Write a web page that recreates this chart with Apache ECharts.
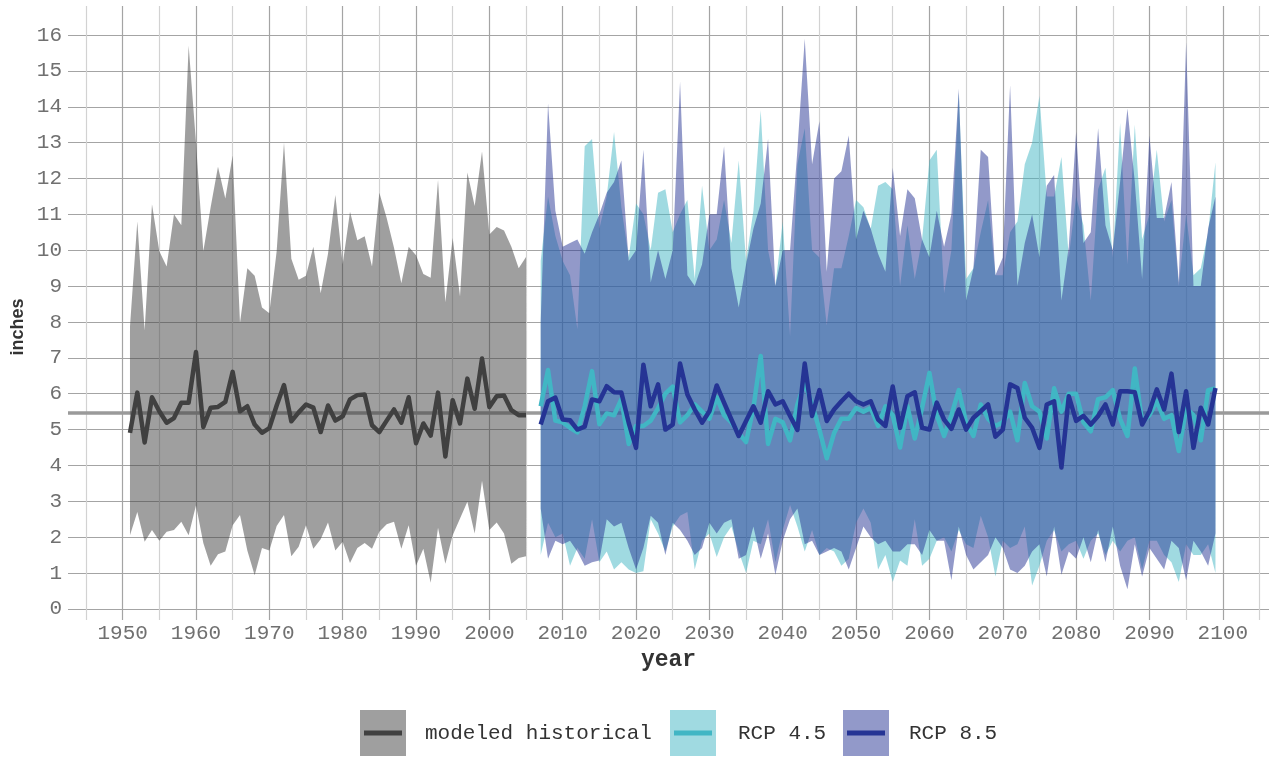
<!DOCTYPE html>
<html>
<head>
<meta charset="utf-8">
<script src="https://cdn.jsdelivr.net/npm/echarts@6/dist/echarts.min.js"></script>
<style>
html, body { margin: 0; padding: 0; background: #fff; }
#main { width: 1274px; height: 757px; }
</style>
</head>
<body>
<div id="main"></div>
<script>
// yearly precipitation, inches
const histStart = 1951;
const histHi = [7.87, 10.8, 7.76, 11.28, 9.97, 9.55, 11.0, 10.7, 15.7, 13.0,
  9.97, 11.2, 12.33, 11.44, 12.64, 7.97, 9.5, 9.29, 8.4, 8.24,
  9.97, 13.0, 9.76, 9.18, 9.29, 10.1, 8.8, 9.9, 11.54, 9.6,
  11.07, 10.28, 10.39, 9.55, 11.6, 10.9, 10.07, 9.08, 10.1, 9.86,
  9.34, 9.23, 11.96, 8.55, 10.34, 8.71, 12.17, 11.23, 12.75, 10.44,
  10.65, 10.55, 10.1, 9.5, 9.81];
const histLo = [2.05, 2.7, 1.87, 2.2, 1.9, 2.15, 2.2, 2.43, 2.05, 2.89,
  1.84, 1.2, 1.52, 1.6, 2.33, 2.62, 1.63, 0.94, 1.7, 1.63,
  2.31, 2.62, 1.47, 1.73, 2.33, 1.68, 1.94, 2.41, 1.63, 1.87,
  1.28, 1.7, 1.84, 1.68, 2.15, 2.36, 2.43, 1.68, 2.33, 1.2,
  1.68, 0.73, 2.26, 1.26, 2.05, 2.52, 2.99, 2.1, 3.57, 2.2,
  2.41, 2.1, 1.26, 1.42, 1.47];
const histMid = [4.91, 6.03, 4.64, 5.9, 5.51, 5.19, 5.32, 5.75, 5.75, 7.16,
  5.07, 5.61, 5.63, 5.77, 6.61, 5.51, 5.65, 5.14, 4.91, 5.04,
  5.67, 6.24, 5.23, 5.48, 5.7, 5.61, 4.93, 5.67, 5.25, 5.37,
  5.84, 5.96, 5.98, 5.12, 4.93, 5.25, 5.56, 5.19, 5.9, 4.62,
  5.17, 4.83, 6.03, 4.25, 5.82, 5.17, 6.42, 5.58, 6.98, 5.63,
  5.93, 5.95, 5.54, 5.4, 5.4];

const rcpStart = 2007;
const r45Hi = [9.7, 11.5, 10.4, 9.7, 9.3, 7.8, 12.9, 13.1, 10.6, 11.5,
  13.3, 11.2, 9.8, 11.3, 11.0, 10.0, 11.6, 11.7, 10.5, 11.0,
  11.4, 9.2, 11.8, 10.0, 10.3, 11.4, 10.2, 12.5, 9.7, 11.1,
  13.9, 10.0, 9.0, 10.8, 7.6, 12.4, 13.4, 10.0, 9.8, 7.9,
  9.5, 9.5, 10.4, 11.4, 11.2, 10.6, 11.8, 11.9, 11.7, 9.0,
  10.7, 9.2, 10.3, 12.5, 12.8, 8.8, 10.0, 14.4, 9.2, 9.5,
  10.5, 11.4, 9.3, 9.3, 10.5, 10.8, 12.4, 13.0, 14.3, 11.5,
  11.5, 12.6, 9.8, 11.5, 10.7, 8.6, 11.7, 12.3, 9.8, 13.55,
  9.6, 13.5, 10.3, 11.0, 12.8, 10.8, 11.4, 9.0, 11.0, 9.3,
  9.5, 10.5, 12.45];
const r45Lo = [1.5, 2.4, 2.0, 2.1, 1.2, 1.7, 1.4, 2.5, 1.3, 1.6,
  1.1, 1.3, 1.1, 1.0, 1.05, 2.5, 2.1, 1.6, 2.3, 2.6,
  2.7, 1.1, 1.9, 2.1, 1.45, 2.0, 2.3, 1.6, 1.0, 1.9,
  1.8, 2.5, 1.3, 2.2, 2.9, 2.3, 1.6, 2.2, 1.5, 1.7,
  1.6, 1.2, 1.4, 2.4, 2.8, 2.4, 1.1, 1.5, 0.75, 1.35,
  1.2, 2.5, 1.2, 1.4, 1.9, 2.0, 1.6, 2.2, 1.8, 1.7,
  2.6, 2.0, 0.9, 1.9, 1.7, 1.8, 2.3, 0.65, 1.2, 1.9,
  2.2, 1.6, 1.8, 1.9, 1.4, 1.9, 2.1, 1.5, 1.9, 1.6,
  1.9, 2.0, 1.1, 1.9, 1.9, 1.5, 1.3, 0.75, 1.8, 1.5,
  1.5, 1.8, 1.0];
const r45Mid = [5.65, 6.66, 5.25, 5.2, 5.05, 4.92, 5.65, 6.63, 5.15, 5.45,
  5.4, 5.85, 4.6, 5.1, 5.1, 5.25, 5.6, 6.0, 6.2, 5.2,
  5.4, 5.7, 5.5, 5.3, 5.9, 5.4, 5.2, 4.9, 4.65, 5.6,
  7.05, 4.6, 5.3, 5.2, 4.7, 5.7, 6.3, 5.7, 5.0, 4.2,
  4.9, 5.3, 5.3, 5.6, 5.5, 5.6, 5.1, 5.65, 5.4, 4.5,
  5.65, 4.75, 5.6, 6.58, 5.4, 4.82, 5.4, 6.1, 5.2, 4.82,
  5.7, 5.3, 5.1, 5.2, 5.5, 4.7, 6.3, 5.65, 5.5, 4.75,
  6.15, 5.5, 6.0, 6.0, 5.2, 4.95, 5.85, 5.9, 6.1, 5.3,
  4.82, 6.7, 5.2, 5.4, 5.8, 5.3, 5.4, 4.4, 5.6, 5.4,
  4.7, 6.1, 6.15];
const r85Hi = [8.0, 14.1, 11.1, 10.1, 10.2, 10.3, 9.9, 10.5, 11.0, 11.6,
  11.9, 12.5, 9.7, 10.0, 12.8, 9.1, 10.0, 9.2, 10.0, 14.7,
  9.3, 9.0, 9.6, 11.0, 11.0, 12.9, 9.5, 8.4, 9.6, 10.6,
  11.3, 13.1, 9.0, 10.0, 10.0, 12.8, 15.9, 12.4, 13.6, 9.4,
  12.0, 12.2, 13.2, 10.3, 11.1, 10.6, 9.9, 9.4, 12.3, 10.4,
  11.7, 11.45, 10.3, 9.8, 11.1, 10.1, 11.0, 14.5, 8.6, 9.5,
  12.8, 12.6, 9.3, 9.8, 14.6, 9.0, 10.2, 11.0, 9.8, 11.8,
  12.1, 8.6, 10.1, 13.3, 10.2, 10.5, 13.4, 10.7, 10.0, 11.9,
  13.95, 11.9, 9.2, 13.2, 10.9, 10.9, 11.9, 9.1, 15.8, 9.0,
  9.0, 10.6, 11.5];
const r85Lo = [2.8, 1.4, 1.9, 1.8, 1.9, 1.6, 1.2, 1.3, 1.35, 2.5,
  2.3, 2.4, 1.7, 1.1, 1.7, 2.6, 2.4, 1.5, 2.4, 2.2,
  1.9, 1.5, 1.7, 2.4, 2.1, 2.4, 2.5, 1.4, 1.5, 2.3,
  1.4, 2.1, 0.95, 1.9, 2.5, 2.8, 1.8, 1.9, 1.5, 1.6,
  1.7, 1.6, 1.1, 1.7, 2.3, 2.0, 1.8, 1.9, 1.6, 1.6,
  1.8, 1.8, 1.5, 2.2, 1.9, 1.9, 0.8, 2.3, 1.5, 1.1,
  1.3, 1.5, 2.0, 1.7, 1.1, 1.0, 1.2, 1.6, 1.8, 0.9,
  2.3, 0.95, 1.6, 1.4, 2.0, 1.3, 2.2, 1.3, 2.3, 1.2,
  0.55, 1.8, 0.9, 1.7, 1.4, 1.1, 1.9, 1.7, 0.8, 1.9,
  1.6, 1.2, 2.1];
const r85Mid = [5.14, 5.79, 5.89, 5.28, 5.26, 5.0, 5.08, 5.84, 5.79, 6.21,
  6.04, 6.03, 5.19, 4.49, 6.81, 5.65, 6.26, 5.0, 5.14, 6.84,
  5.98, 5.56, 5.19, 5.51, 6.23, 5.75, 5.28, 4.82, 5.24, 5.65,
  5.19, 6.07, 5.7, 5.79, 5.38, 4.99, 6.84, 5.38, 6.1, 5.24,
  5.56, 5.79, 6.0, 5.79, 5.7, 5.79, 5.28, 5.1, 6.2, 5.05,
  5.93, 6.04, 5.05, 5.0, 5.75, 5.28, 5.02, 5.56, 5.0, 5.33,
  5.51, 5.7, 4.8, 5.0, 6.26, 6.16, 5.33, 5.05, 4.49, 5.7,
  5.79, 3.94, 5.93, 5.24, 5.38, 5.14, 5.38, 5.7, 5.14, 6.07,
  6.07, 6.04, 5.14, 5.51, 6.12, 5.56, 6.56, 4.93, 6.07, 4.49,
  5.61, 5.14, 6.16];

const refLevel = 5.46;   // long-term historical average line
const xLabels = [1950, 1960, 1970, 1980, 1990, 2000, 2010, 2020, 2030, 2040, 2050, 2060, 2070, 2080, 2090, 2100];
const xGrid = [1945, 1950, 1955, 1960, 1965, 1970, 1975, 1980, 1985, 1990, 1995, 2000, 2005, 2010, 2015,
  2020, 2025, 2030, 2035, 2040, 2045, 2050, 2055, 2060, 2065, 2070, 2075, 2080, 2085, 2090, 2095, 2100, 2105];
const yTicks = [0, 1, 2, 3, 4, 5, 6, 7, 8, 9, 10, 11, 12, 13, 14, 15, 16];

const FONT = "'Liberation Mono', 'Courier New', monospace";
const HIST = '#404040', R45 = '#41b6c4', R85 = '#253494';

const histYears = histMid.map((_, i) => histStart + i);
const rcpYears = r45Mid.map((_, i) => rcpStart + i);

function pairs(years, vals) {
    return years.map((y, i) => [y, vals[i]]);
}

// min-max ribbon drawn as one polygon through the axis scales
function ribbon(name, years, lo, hi, color) {
    return {
        name: name,
        type: 'custom',
        silent: true,
        z: 6,
        data: years.map((y, i) => [y, lo[i], hi[i]]),
        encode: { x: 0, y: [1, 2] },
        renderItem: function (params, api) {
            if (params.dataIndex !== 0) return null;
            const top = years.map((y, i) => api.coord([y, hi[i]]));
            const bottom = years.map((y, i) => api.coord([y, lo[i]])).reverse();
            return {
                type: 'polygon',
                shape: { points: top.concat(bottom) },
                style: { fill: color, opacity: 0.5 }
            };
        }
    };
}

function median(name, years, vals, color) {
    return {
        name: name,
        type: 'line',
        z: 7,
        silent: true,
        symbol: 'none',
        data: pairs(years, vals),
        lineStyle: { color: color, width: 4.5, join: 'round' }
    };
}

function legendItem(x, textX, color, label) {
    return [
        { type: 'rect', shape: { x: x, y: 710, width: 46, height: 46 }, style: { fill: color, opacity: 0.5 } },
        { type: 'line', shape: { x1: x + 4, y1: 733, x2: x + 42, y2: 733 }, style: { stroke: color, lineWidth: 5 } },
        { type: 'text', x: textX, y: 733, style: { text: label, fontFamily: FONT, fontSize: 21, fill: '#333', verticalAlign: 'middle' } }
    ];
}

const chart = echarts.init(document.getElementById('main'));
chart.setOption({
    animation: false,
    backgroundColor: '#fff',
    grid: { left: 68, right: 5, top: 6, bottom: 137, outerBoundsMode: 'none' },
    xAxis: {
        type: 'value',
        min: 1942.55,
        max: 2106.3,
        name: 'year',
        nameLocation: 'middle',
        nameGap: 27,
        nameTextStyle: { fontFamily: FONT, fontSize: 23, fontWeight: 'bold', color: '#333' },
        axisLine: { show: false },
        axisTick: { show: false, customValues: xGrid },
        axisLabel: {
            customValues: xLabels, fontFamily: FONT, fontSize: 21, color: '#707070', margin: 3,
            formatter: function (v) { return String(v); }
        },
        splitLine: { show: true, lineStyle: { color: ['#d2d2d2', '#a4a4a4'], width: 1.2 } }
    },
    yAxis: {
        type: 'value',
        min: -0.31,
        max: 16.81,
        axisLine: { show: false },
        axisTick: { show: false, customValues: yTicks },
        axisLabel: { customValues: yTicks, fontFamily: FONT, fontSize: 21, color: '#707070', margin: 6 },
        splitLine: { show: true, lineStyle: { color: '#a4a4a4', width: 1.2 } }
    },
    series: [
        {
            type: 'line',
            data: [],
            markLine: {
                silent: true,
                symbol: 'none',
                label: { show: false },
                lineStyle: { color: '#9a9a9a', width: 3.5, type: 'solid' },
                data: [{ yAxis: refLevel }]
            }
        },
        ribbon('modeled historical', histYears, histLo, histHi, HIST),
        ribbon('RCP 4.5', rcpYears, r45Lo, r45Hi, R45),
        ribbon('RCP 8.5', rcpYears, r85Lo, r85Hi, R85),
        median('modeled historical', histYears, histMid, HIST),
        median('RCP 4.5', rcpYears, r45Mid, R45),
        median('RCP 8.5', rcpYears, r85Mid, R85)
    ],
    graphic: [{
        type: 'text', x: 18, y: 327, rotation: Math.PI / 2,
        style: {
            text: 'inches', fontFamily: "'Liberation Sans', Arial, sans-serif", fontSize: 18,
            fontWeight: 'bold', fill: '#333', align: 'center', verticalAlign: 'middle'
        }
    }].concat(
        legendItem(360, 425, HIST, 'modeled historical'),
        legendItem(670, 738, R45, 'RCP 4.5'),
        legendItem(843, 909, R85, 'RCP 8.5')
    )
});
</script>
</body>
</html>
